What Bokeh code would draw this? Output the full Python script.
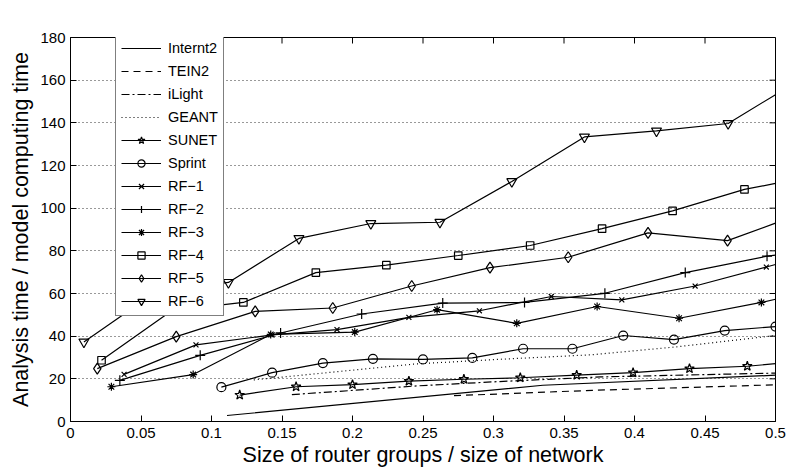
import math
from bokeh.plotting import figure
from bokeh.models import Range1d, FixedTicker, NumeralTickFormatter, Legend, LegendItem
from bokeh.embed import file_html
from bokeh.resources import INLINE

# ---------------- data ----------------
x_ticks = [0, 0.05, 0.1, 0.15, 0.2, 0.25, 0.3, 0.35, 0.4, 0.45, 0.5]
y_ticks = [0, 20, 40, 60, 80, 100, 120, 140, 160, 180]
x_label = "Size of router groups / size of network"
y_label = "Analysis time / model computing time"
X_MAX = 0.5
Y_MAX = 180

internet2_x = [0.111, 0.335, 0.5]
internet2_y = [2.8, 17.0, 21.7]

tein2_x = [0.272, 0.37, 0.5]
tein2_y = [12.1, 14.6, 17.2]

ilight_x = [0.157, 0.246, 0.30, 0.376, 0.5]
ilight_y = [12.6, 16.7, 18.6, 20.9, 22.7]

geant_x = [0.13, 0.245, 0.30, 0.37, 0.43, 0.5]
geant_y = [19.5, 27.0, 29.0, 31.3, 35.0, 40.3]

sunet_x = [0.120, 0.160, 0.200, 0.240, 0.279, 0.319, 0.359, 0.399, 0.439, 0.480]
sunet_y = [12.4, 16.3, 17.3, 18.9, 19.8, 20.5, 21.7, 22.9, 24.8, 25.9]
sunet_edge = 27.1

sprint_x = [0.107, 0.143, 0.179, 0.2145, 0.250, 0.285, 0.321, 0.356, 0.392, 0.428, 0.464, 0.5]
sprint_y = [16.1, 22.9, 27.4, 29.4, 29.1, 29.8, 34.1, 34.1, 40.3, 38.4, 42.6, 44.5]

rf1_x = [0.038, 0.089, 0.143, 0.189, 0.240, 0.290, 0.341, 0.391, 0.443, 0.4935]
rf1_y = [22.1, 35.9, 40.6, 43.1, 48.8, 51.9, 58.6, 57.0, 63.5, 72.4]
rf1_edge = 73.6

rf2_x = [0.035, 0.092, 0.149, 0.2065, 0.264, 0.322, 0.379, 0.436, 0.494]
rf2_y = [19.3, 31.0, 41.5, 50.4, 55.5, 55.8, 60.1, 69.8, 77.5]
rf2_edge = 78.0

rf3_x = [0.029, 0.087, 0.142, 0.2016, 0.260, 0.3165, 0.3735, 0.4316, 0.490]
rf3_y = [16.3, 22.0, 40.8, 41.9, 52.4, 46.0, 53.9, 48.4, 55.8]
rf3_edge = 57.3

rf4_x = [0.022, 0.072, 0.1226, 0.174, 0.224, 0.275, 0.326, 0.377, 0.427, 0.478]
rf4_y = [28.7, 52.0, 55.8, 69.8, 73.3, 77.8, 82.5, 90.4, 98.7, 108.8]
rf4_edge = 111.6

rf5_x = [0.019, 0.075, 0.131, 0.186, 0.242, 0.2975, 0.353, 0.4096, 0.466]
rf5_y = [24.8, 39.8, 51.6, 53.2, 63.5, 72.1, 77.0, 88.4, 84.8]
rf5_edge = 93.0

rf6_x = [0.0095, 0.060, 0.112, 0.162, 0.213, 0.262, 0.313, 0.3645, 0.4156, 0.4664]
rf6_y = [37.3, 60.5, 65.2, 85.8, 92.8, 93.4, 112.5, 133.4, 136.2, 139.7]
rf6_edge = 153.2

# name, x, y, edge-y at X_MAX (None if line ends on data), marker, dash, marker size
series = [
    ("Internt2", internet2_x, internet2_y, None, None, "solid", 0),
    ("TEIN2", tein2_x, tein2_y, None, None, "7 5", 0),
    ("iLight", ilight_x, ilight_y, None, None, "8 3 2 3", 0),
    ("GEANT", geant_x, geant_y, None, None, "1 3", 0),
    ("SUNET", sunet_x, sunet_y, sunet_edge, "star", "solid", 10),
    ("Sprint", sprint_x, sprint_y, None, "circle", "solid", 9),
    ("RF\u22121", rf1_x, rf1_y, rf1_edge, "x", "solid", 7),
    ("RF\u22122", rf2_x, rf2_y, rf2_edge, "cross", "solid", 10),
    ("RF\u22123", rf3_x, rf3_y, rf3_edge, "asterisk", "solid", 8),
    ("RF\u22124", rf4_x, rf4_y, rf4_edge, "square", "solid", 7.5),
    ("RF\u22125", rf5_x, rf5_y, rf5_edge, "diamond", "solid", 11),
    ("RF\u22126", rf6_x, rf6_y, rf6_edge, "inverted_triangle", "solid", 10),
]

FONT = "Liberation Sans"

p = figure(width=788, height=469, output_backend="svg", toolbar_location=None,
           x_range=Range1d(0, X_MAX), y_range=Range1d(0, Y_MAX),
           min_border_left=70, min_border_right=13, min_border_top=37, min_border_bottom=46,
           background_fill_color="white", border_fill_color="white")
p.outline_line_color = "black"
p.outline_line_width = 1
p.xgrid.visible = False
p.ygrid.ticker = FixedTicker(ticks=y_ticks)
p.ygrid.grid_line_color = "#333333"
p.ygrid.grid_line_dash = "1 3"
p.ygrid.grid_line_width = 1

def style_axis(ax):
    ax.axis_line_color = "black"
    ax.major_tick_line_color = "black"
    ax.major_tick_in = 6
    ax.major_tick_out = 0
    ax.minor_tick_line_color = None
    ax.major_label_text_font = FONT
    ax.major_label_text_color = "black"
    ax.major_label_text_font_size = "15px"
    ax.axis_label_text_font = FONT
    ax.axis_label_text_font_size = "21.5px"
    ax.axis_label_text_font_style = "normal"
    ax.axis_label_text_color = "black"

xa = p.xaxis[0]
xa.ticker = FixedTicker(ticks=x_ticks)
xa.formatter = NumeralTickFormatter(format="0.[00]")
style_axis(xa)
xa.major_label_standoff = 6
xa.axis_label = x_label
xa.axis_label_standoff = 2

ya = p.yaxis[0]
ya.ticker = FixedTicker(ticks=y_ticks)
style_axis(ya)
ya.major_label_standoff = 5
ya.axis_label = y_label
ya.axis_label_standoff = 4

# inward ticks on the top and right edges of the box
p.ray(x=x_ticks, y=[Y_MAX] * len(x_ticks), length=6, angle=-math.pi / 2,
      length_units="screen", line_color="black", line_width=1)
p.ray(x=[X_MAX] * len(y_ticks), y=y_ticks, length=6, angle=math.pi,
      length_units="screen", line_color="black", line_width=1)

items = []
for name, xs, ys, edge, marker, dash, size in series:
    lx = list(xs)
    ly = list(ys)
    if edge is not None:
        lx.append(X_MAX)
        ly.append(edge)
    rends = [p.line(lx, ly, line_color="black", line_width=1.2, line_dash=dash)]
    if marker is not None:
        rends.append(p.scatter(list(xs), list(ys), marker=marker, size=size,
                               line_color="black", line_width=1.2, fill_color=None))
    items.append(LegendItem(label=name, renderers=rends))

legend = Legend(items=items, location=(45, 105))
legend.glyph_width = 40
legend.glyph_height = 18
legend.label_height = 18
legend.spacing = 5
legend.padding = 5
legend.margin = 0
legend.label_standoff = 7
legend.label_text_font = FONT
legend.label_text_font_size = "14.5px"
legend.label_text_color = "black"
legend.border_line_color = "black"
legend.border_line_width = 1
legend.background_fill_color = "white"
legend.background_fill_alpha = 1.0
p.add_layout(legend, "center")

open("out.html", "w").write(file_html(p, INLINE))
